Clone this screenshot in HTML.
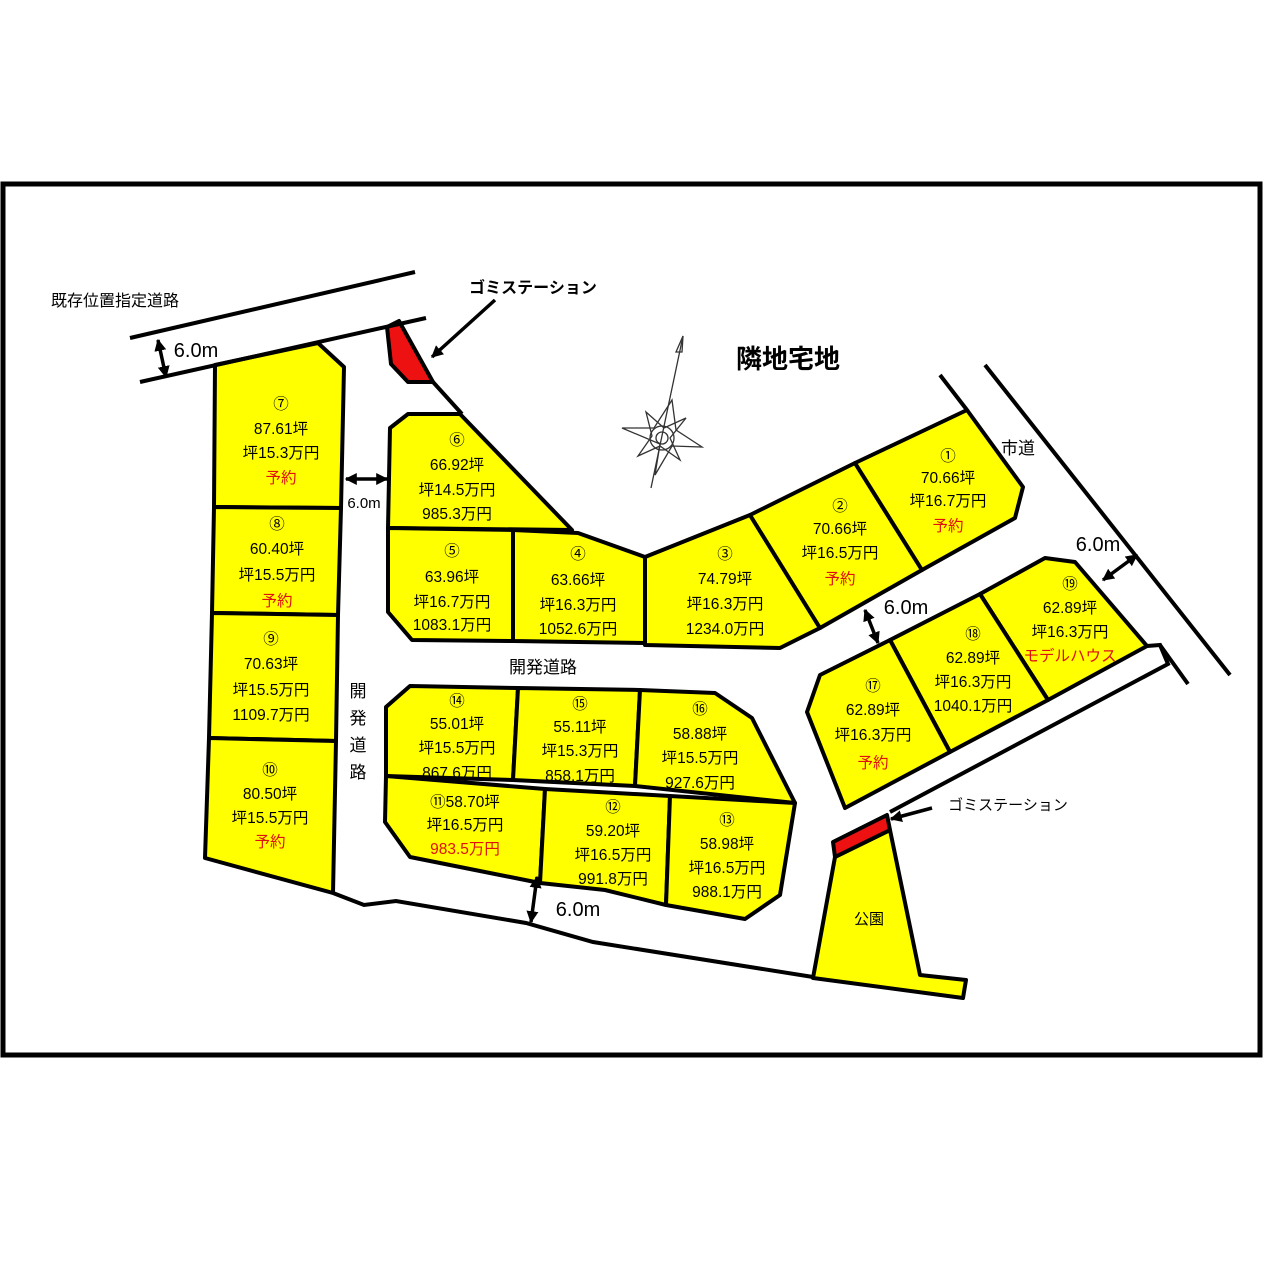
<!DOCTYPE html>
<html><head><meta charset="utf-8"><style>
html,body{margin:0;padding:0;background:#fff}
svg{display:block}
text{font-family:"Liberation Sans","Noto Sans CJK JP",sans-serif;}
</style></head><body>
<svg width="1266" height="1266" viewBox="0 0 1266 1266" xmlns="http://www.w3.org/2000/svg">
<rect x="0" y="0" width="1266" height="1266" fill="#fff"/>
<rect x="3" y="184" width="1257" height="871" fill="none" stroke="#000" stroke-width="5"/>
<defs><marker id="ah" viewBox="0 0 10 10" markerWidth="12" markerHeight="12" refX="9" refY="5" orient="auto-start-reverse" markerUnits="userSpaceOnUse"><path d="M0,0 L10,5 L0,10 Z" fill="#000"/></marker></defs>
<g stroke="#000" stroke-width="4" stroke-linejoin="round" fill="#ffff00">
<polygon points="215,365 318,343 344,367 341,508 214,507"/>
<polygon points="214,507 341,508 338,615 212,613"/>
<polygon points="212,613 338,615 336,741 209,738"/>
<polygon points="209,738 336,741 333,893 205,858"/>
<polygon points="390,428 408,414 460,414 572,530 388,528"/>
<polygon points="388,528 513,530 513,641 412,640 388,612"/>
<polygon points="513,530 578,533 645,557 645,643 513,641"/>
<polygon points="645,557 750,515 820,628 780,648 645,645"/>
<polygon points="750,515 855,463 922,570 820,628"/>
<polygon points="855,463 967,410 1023,487 1015,518 922,570"/>
<polygon points="1045,558 1075,562 1147,646 1048,700 980,594"/>
<polygon points="980,594 1048,700 950,752 890,640"/>
<polygon points="890,640 950,752 845,808 807,712 820,675"/>
<polygon points="410,686 518,688 513,780 386,776 386,707"/>
<polygon points="518,688 640,690 635,786 513,780"/>
<polygon points="640,690 715,693 752,718 795,803 635,786"/>
<polygon points="386,776 545,789 540,883 410,857 385,822"/>
<polygon points="545,789 670,796 666,905 605,890 540,883"/>
<polygon points="670,796 795,803 780,895 745,919 666,905"/>
<polygon points="835,857 890,830 920,975 966,980 963,998 813,978"/>
</g>
<g stroke="#000" stroke-width="4" fill="#ee1111" stroke-linejoin="round">
<polygon points="387,327 399,321 433,382 408,382 391,364"/>
<polygon points="833,842 887,815 890,830 835,857"/>
</g>
<g stroke="#000" stroke-width="4" fill="none">
<line x1="130" y1="338" x2="415" y2="272"/>
<line x1="140" y1="382" x2="426" y2="318"/>
<line x1="433" y1="382" x2="462" y2="414"/>
<line x1="967" y1="410" x2="940" y2="375"/>
<line x1="985" y1="365" x2="1230" y2="675"/>
<polyline points="1147,646 1160,645 1168,664 890,812"/>
<line x1="1160" y1="645" x2="1188" y2="684"/>
<polyline points="333,893 364,905 396,901 526,923 593,942 813,977"/>
</g>
<g stroke="#000" stroke-width="3.5" fill="none" marker-end="url(#ah)" marker-start="url(#ah)">
<line x1="158" y1="340" x2="166" y2="377"/>
<line x1="346" y1="479" x2="387" y2="479"/>
<line x1="865" y1="610" x2="878" y2="643"/>
<line x1="1103" y1="580" x2="1137" y2="555"/>
<line x1="537" y1="877" x2="531" y2="922"/>
</g>
<g stroke="#000" stroke-width="3.5" fill="none" marker-end="url(#ah)">
<line x1="495" y1="300" x2="432" y2="357"/>
<line x1="932" y1="808" x2="891" y2="819"/>
</g>
<g stroke="#333" stroke-width="1.3" fill="none">
<line x1="683" y1="336" x2="651" y2="488"/>
<polygon points="683,336 676,352 682,352"/>
<polygon points="672,400 676,430 702,447 672,446 655,475 660,444 622,428 654,428"/>
<polygon points="646,412 664,428 686,418 670,438 680,460 660,446 638,456 652,436"/>
<circle cx="662" cy="438" r="12"/>
<circle cx="662" cy="438" r="6"/>
</g>
<g font-size="15.5" text-anchor="middle" fill="#000">
<text x="115" y="306" font-size="16">既存位置指定道路</text>
<text x="533" y="293" font-size="16" font-weight="bold">ゴミステーション</text>
<text x="788" y="368" font-size="26" font-weight="bold">隣地宅地</text>
<text x="1018" y="454" font-size="17">市道</text>
<text x="196" y="357" font-size="20">6.0m</text>
<text x="364" y="508" font-size="15">6.0m</text>
<text x="906" y="614" font-size="20">6.0m</text>
<text x="1098" y="551" font-size="20">6.0m</text>
<text x="578" y="916" font-size="20">6.0m</text>
<text x="543" y="673" font-size="17">開発道路</text>
<text x="358" y="697" font-size="17">開</text>
<text x="358" y="724" font-size="17">発</text>
<text x="358" y="751" font-size="17">道</text>
<text x="358" y="778" font-size="17">路</text>
<text x="869" y="924" font-size="15">公園</text>
<text x="1008" y="810" font-size="15">ゴミステーション</text>

<text x="281" y="409">⑦</text><text x="281" y="434">87.61坪</text><text x="281" y="458">坪15.3万円</text><text x="281" y="483" fill="#e01010">予約</text>
<text x="277" y="529">⑧</text><text x="277" y="554">60.40坪</text><text x="277" y="580">坪15.5万円</text><text x="277" y="606" fill="#e01010">予約</text>
<text x="271" y="644">⑨</text><text x="271" y="669">70.63坪</text><text x="271" y="695">坪15.5万円</text><text x="271" y="720">1109.7万円</text>
<text x="270" y="775">⑩</text><text x="270" y="799">80.50坪</text><text x="270" y="823">坪15.5万円</text><text x="270" y="847" fill="#e01010">予約</text>
<text x="457" y="445">⑥</text><text x="457" y="470">66.92坪</text><text x="457" y="495">坪14.5万円</text><text x="457" y="519">985.3万円</text>
<text x="452" y="556">⑤</text><text x="452" y="582">63.96坪</text><text x="452" y="607">坪16.7万円</text><text x="452" y="630">1083.1万円</text>
<text x="578" y="559">④</text><text x="578" y="585">63.66坪</text><text x="578" y="610">坪16.3万円</text><text x="578" y="634">1052.6万円</text>
<text x="725" y="559">③</text><text x="725" y="584">74.79坪</text><text x="725" y="609">坪16.3万円</text><text x="725" y="634">1234.0万円</text>
<text x="840" y="511">②</text><text x="840" y="534">70.66坪</text><text x="840" y="558">坪16.5万円</text><text x="840" y="584" fill="#e01010">予約</text>
<text x="948" y="461">①</text><text x="948" y="483">70.66坪</text><text x="948" y="506">坪16.7万円</text><text x="948" y="531" fill="#e01010">予約</text>
<text x="1070" y="589">⑲</text><text x="1070" y="613">62.89坪</text><text x="1070" y="637">坪16.3万円</text><text x="1070" y="661" fill="#e01010">モデルハウス</text>
<text x="973" y="639">⑱</text><text x="973" y="663">62.89坪</text><text x="973" y="687">坪16.3万円</text><text x="973" y="711">1040.1万円</text>
<text x="873" y="691">⑰</text><text x="873" y="715">62.89坪</text><text x="873" y="740">坪16.3万円</text><text x="873" y="768" fill="#e01010">予約</text>
<text x="457" y="706">⑭</text><text x="457" y="729">55.01坪</text><text x="457" y="753">坪15.5万円</text><text x="457" y="778">867.6万円</text>
<text x="580" y="709">⑮</text><text x="580" y="732">55.11坪</text><text x="580" y="756">坪15.3万円</text><text x="580" y="781">858.1万円</text>
<text x="700" y="714">⑯</text><text x="700" y="739">58.88坪</text><text x="700" y="763">坪15.5万円</text><text x="700" y="788">927.6万円</text>
<text x="465" y="807">⑪58.70坪</text><text x="465" y="830">坪16.5万円</text><text x="465" y="854" fill="#e01010">983.5万円</text>
<text x="613" y="812">⑫</text><text x="613" y="836">59.20坪</text><text x="613" y="860">坪16.5万円</text><text x="613" y="884">991.8万円</text>
<text x="727" y="825">⑬</text><text x="727" y="849">58.98坪</text><text x="727" y="873">坪16.5万円</text><text x="727" y="897">988.1万円</text>
</g>
</svg>
</body></html>
